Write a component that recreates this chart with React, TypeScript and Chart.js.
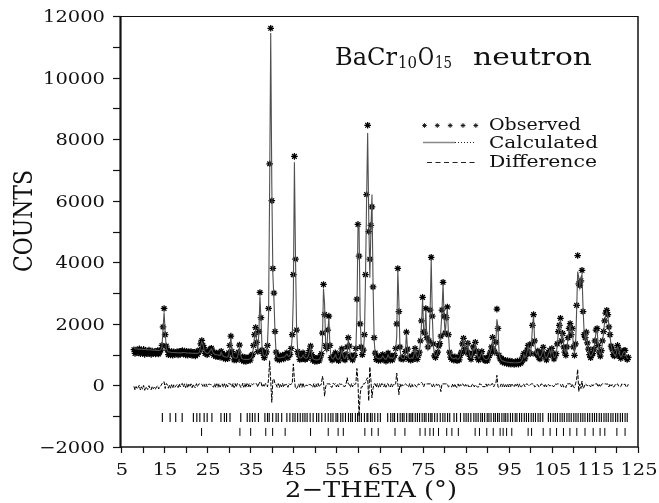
import React, { useEffect, useRef } from "react";
import { Chart, registerables } from "chart.js";

Chart.register(...registerables);

// ---- scan parameters (2-theta start and step of the neutron pattern) ----
const START_2THETA = 8.0;
const STEP_2THETA = 0.25;

// ---- observed counts, one row per 5 degrees (20 steps of 0.25) ----
const OBSERVED = [
  1160,1040,1150,1070,1120,1190,1030,1130,1050,1170,1010,1120,1060,1030,1150,1050,1010,1120,1040,1090,
  1020,1100,1130,1020,1090,1150,1300,1900,2500,1650,1280,1150,1000,1110,990,1100,980,1090,1010,1050,
  1090,990,1110,1010,1100,1130,1020,1120,990,1110,980,1090,1010,1100,970,1080,1000,960,1100,1010,
  1090,1150,1350,1460,1300,1230,1040,1100,1000,1080,1120,1180,1210,1080,980,1070,940,1050,930,1040,
  920,1110,1040,890,990,860,970,870,1060,1300,1600,1100,990,830,950,830,960,1080,1310,940,
  820,930,790,910,780,900,800,910,820,960,1000,1300,1650,1880,1400,1100,1750,3020,2200,1150,
  1030,900,1020,1090,1300,2500,7200,11600,6000,3800,3000,1750,1080,860,960,830,950,860,990,860,
  960,1000,1060,900,1000,1010,1200,1650,3600,7440,4100,1800,1100,1000,840,950,860,1060,880,840,
  900,880,1000,1130,1280,1000,820,910,780,880,790,900,800,920,1030,1700,3280,2300,1300,1200,
  1800,2250,1300,900,820,930,950,1060,850,910,800,940,1030,1190,960,860,830,1010,1250,1550,
  1280,920,960,830,960,980,1200,2800,5230,4200,2000,1250,1000,1150,1650,3600,6200,8450,5000,4100,
  5200,5800,3200,1550,1050,840,940,810,920,820,960,1000,850,910,790,950,1050,880,820,950,
  830,950,980,1200,2000,3800,2400,1250,860,910,850,900,1100,1730,1180,850,930,820,950,840,
  1020,1200,960,850,970,1080,1450,2100,2860,1750,1700,2500,1550,1250,1450,2450,4160,2250,1350,960,
  910,1030,1080,1280,1360,1600,2450,3350,2250,1700,2200,2550,1650,1080,920,850,930,820,930,850,
  800,900,830,980,1080,1350,1530,1200,1080,1120,1370,1050,940,850,1030,1250,1100,1400,1120,900,
  830,960,1030,1100,900,850,800,890,800,910,970,1080,1250,1560,1150,1080,1400,2480,1850,980,
  860,880,760,840,730,820,710,800,700,790,690,780,730,680,770,700,790,690,800,720,
  760,920,1040,860,990,1150,1300,1080,1030,1350,1950,2300,1450,1020,1030,1120,900,860,1000,1080,
  1240,1010,950,830,980,1080,1130,1000,1200,1020,860,970,1030,1350,1750,1950,2180,1450,1690,1250,
  1080,980,1250,1550,1850,2010,1650,1850,1250,980,1350,2600,4220,3300,3250,3400,3740,2400,1650,1550,
  1730,1380,1180,1000,900,1020,1030,1180,1450,1800,1850,1300,1080,950,1130,1450,1750,2100,2350,2440,
  2300,1900,1650,1280,1180,1000,960,990,1080,1300,1180,950,880,1000,1080,1130,1140,900,840,910,
];

// ---- calculated profile, same grid ----
const CALCULATED = [
  1190,1190,1185,1185,1180,1180,1178,1175,1172,1170,1168,1165,1162,1160,1158,1155,1152,1150,1148,1145,
  1142,1140,1138,1135,1140,1160,1250,1800,2380,1750,1220,1120,1090,1085,1080,1075,1072,1070,1068,1065,
  1062,1060,1058,1058,1060,1065,1070,1068,1062,1058,1055,1052,1050,1048,1045,1042,1040,1040,1042,1045,
  1050,1100,1300,1420,1330,1180,1080,1050,1040,1045,1080,1150,1190,1100,1040,1010,1000,995,990,985,
  975,1080,990,950,935,925,915,920,1000,1250,1560,1150,930,900,890,885,900,1050,1270,1000,
  880,860,850,845,845,840,845,850,870,900,980,1250,1600,1820,1350,1150,1700,2900,2100,1200,
  1000,950,960,1050,1350,2300,6400,11450,6550,3600,2800,1700,1050,920,900,895,900,910,920,915,
  930,980,1020,960,940,990,1150,1600,2900,7250,4200,1900,1150,950,900,890,920,980,930,890,
  880,900,960,1100,1250,1020,880,850,840,830,830,835,850,900,1000,1400,3150,2650,1350,1150,
  1750,2200,1250,950,880,860,920,1000,900,860,850,880,1000,1150,980,880,870,950,1000,1500,
  1250,980,900,880,900,950,1150,2250,5100,5200,2300,1300,1050,1100,1600,3500,6000,8200,5500,3500,
  5000,6200,3300,1500,1000,900,880,870,860,870,900,960,900,860,850,900,1000,920,880,900,
  880,900,950,1150,1600,3750,2700,1200,920,880,870,880,1050,1700,1200,900,870,880,900,880,
  1000,1180,1000,900,920,1050,1400,2000,2800,1800,1650,2450,1500,1200,1400,2400,4100,2300,1300,1000,
  950,980,1100,1250,1400,1800,2400,3300,2200,1650,2150,2500,1700,1100,950,900,880,860,880,900,
  860,850,880,950,1100,1300,1500,1250,1050,1150,1350,1100,950,900,1000,1200,1150,1380,1150,950,
  880,900,1000,1080,950,880,850,840,850,870,950,1100,1200,1500,1200,1050,1350,2150,1900,1050,
  900,830,800,790,780,770,760,755,750,745,740,740,738,735,735,738,740,745,750,760,
  800,880,1000,900,950,1100,1280,1100,1000,1300,1900,2250,1500,1050,1000,1100,950,900,950,1050,
  1200,1050,900,880,950,1050,1150,1000,1180,1050,900,920,1000,1300,1700,1900,2150,1500,1650,1300,
  1100,1050,1200,1500,1800,1950,1700,1800,1300,1050,1300,2400,3700,3500,3200,3500,3600,2500,1700,1500,
  1700,1400,1150,1000,950,980,1050,1150,1400,1750,1800,1350,1050,1000,1100,1400,1700,2050,2300,2400,
  2250,1950,1600,1300,1150,1050,1000,950,1050,1250,1200,1000,920,950,1050,1100,1100,950,880,870,
];

// ---- reflection markers (2-theta) ----
const REFLECTIONS_BACR10O15 = [
  14.6,16.4,17.7,19.2,21.8,22.6,23.3,24.3,25.0,26.1,28.2,29.0,29.5,30.3,32.8,34.3,34.9,35.5,36.1,36.9,
  38.4,39.0,39.4,40.2,41.0,41.5,42.3,43.5,44.2,44.9,45.4,46.0,46.6,47.2,47.7,48.2,48.9,49.6,50.4,50.9,
  51.6,52.4,53.1,53.7,54.2,54.9,55.3,56.0,56.5,57.1,57.8,58.3,58.7,59.4,59.9,60.3,60.8,61.5,62.1,62.3,
  62.9,63.3,63.9,64.6,65.2,66.9,67.6,68.1,68.5,69.2,69.8,70.3,70.7,71.3,71.9,72.3,72.7,73.3,73.8,74.3,
  74.9,75.4,75.8,76.4,76.9,77.2,77.8,78.4,79.1,79.7,80.2,80.8,81.3,82.3,82.9,83.8,84.6,85.1,85.6,86.2,
  86.9,87.4,87.9,88.5,88.9,89.4,90.0,90.4,90.9,91.5,91.9,92.4,92.8,93.4,93.9,94.3,94.8,95.4,95.9,96.5,
  96.9,97.5,98.0,98.6,99.1,99.6,100.2,100.7,101.2,101.8,102.3,102.9,104.2,104.7,105.3,105.8,106.3,106.9,
  107.4,107.9,108.5,109.0,109.5,110.1,110.6,111.1,111.7,112.2,112.7,113.3,113.8,114.4,114.9,115.4,116.0,
  116.5,117.1,117.6,118.1,118.7,119.2,119.8,120.3,120.9,121.4,122.0,122.5,
];
const REFLECTIONS_SECOND_PHASE = [
  23.7,32.6,35.1,38.6,40.2,43.1,49.0,53.1,55.4,56.6,61.6,63.2,64.7,68.6,70.9,74.4,75.6,76.7,77.5,78.7,
  80.6,81.8,83.3,87.2,88.2,89.9,91.4,93.0,93.7,94.5,95.7,99.5,100.3,103.0,104.6,106.1,107.7,109.2,110.8,
  112.7,114.6,116.2,117.3,120.1,122.0,
];
const MARKER_LEVEL_MAIN = -1040;
const MARKER_LEVEL_SECOND = -1510;

// ---- axes ----
const X_RANGE = [5, 125];
const Y_RANGE = [-2000, 12000];
const X_TICK_LABELS = [5, 15, 25, 35, 45, 55, 65, 75, 85, 95, 105, 115, 125];
const X_MINOR_TICKS = [10, 20, 30, 40, 50, 60, 70, 80, 90, 100, 110, 120];
const Y_TICK_LABELS = [-2000, 0, 2000, 4000, 6000, 8000, 10000, 12000];
const Y_MINOR_TICKS = [-1000, 1000, 3000, 5000, 7000, 9000, 11000];

const SERIF = '"DejaVu Serif", "Liberation Serif", serif';

function twoTheta(i: number) {
  return Number((START_2THETA + i * STEP_2THETA).toFixed(2));
}

function drawScaled(ctx: CanvasRenderingContext2D, text: string, x: number, y: number, sx: number, sy: number, align: CanvasTextAlign) {
  ctx.save();
  ctx.translate(x, y);
  ctx.scale(sx, sy);
  ctx.textAlign = align;
  ctx.textBaseline = "alphabetic";
  ctx.fillText(text, 0, 0);
  ctx.restore();
}

function drawFit(ctx: CanvasRenderingContext2D, text: string, x: number, y: number, width: number, sy: number, align: CanvasTextAlign) {
  ctx.textAlign = "left";
  const w = ctx.measureText(text).width;
  drawScaled(ctx, text, x, y, width / w, sy, align);
}

const decorPlugin = {
  id: "decor",
  afterDraw(chart: any) {
    const ctx: CanvasRenderingContext2D = chart.ctx;
    const { left, right, top, bottom } = chart.chartArea;
    const xs = chart.scales.x;
    const ys = chart.scales.y;
    ctx.save();
    ctx.strokeStyle = "#111";
    ctx.fillStyle = "#111";
    ctx.setLineDash([]);

    // frame
    ctx.lineWidth = 1.2;
    ctx.beginPath();
    ctx.moveTo(left, top + 0.5);
    ctx.lineTo(right, top + 0.5);
    ctx.stroke();
    ctx.lineWidth = 1.5;
    ctx.beginPath();
    ctx.moveTo(right, top);
    ctx.lineTo(right, bottom);
    ctx.stroke();
    ctx.lineWidth = 1.6;
    ctx.beginPath();
    ctx.moveTo(left - 1, bottom);
    ctx.lineTo(right, bottom);
    ctx.stroke();
    ctx.lineWidth = 2.2;
    ctx.beginPath();
    ctx.moveTo(left - 0.5, top);
    ctx.lineTo(left - 0.5, bottom + 1);
    ctx.stroke();

    // y ticks
    ctx.lineWidth = 1.2;
    for (const v of [...Y_TICK_LABELS, ...Y_MINOR_TICKS]) {
      const py = Math.round(ys.getPixelForValue(v)) + 0.5;
      ctx.beginPath();
      ctx.moveTo(left - 8, py);
      ctx.lineTo(left, py);
      ctx.stroke();
    }
    // x ticks
    for (const v of [...X_TICK_LABELS, ...X_MINOR_TICKS]) {
      const px = Math.round(xs.getPixelForValue(v)) + 0.5;
      ctx.beginPath();
      ctx.moveTo(px, bottom);
      ctx.lineTo(px, bottom + 6);
      ctx.stroke();
    }

    // tick labels
    ctx.font = `16.5px ${SERIF}`;
    const sxTick = 1.18;
    for (const v of Y_TICK_LABELS) {
      const py = ys.getPixelForValue(v);
      const label = v < 0 ? "\u2212" + Math.abs(v) : String(v);
      drawScaled(ctx, label, left - 16, py + 6, sxTick, 1, "right");
    }
    for (const v of X_TICK_LABELS) {
      const px = xs.getPixelForValue(v);
      drawScaled(ctx, String(v), px + 1, bottom + 28, sxTick, 1, "center");
    }

    // axis titles
    ctx.font = `23px ${SERIF}`;
    drawFit(ctx, "2\u2212THETA (\u00b0)", 285, 496.5, 172, 1, "left");
    ctx.font = `22px ${SERIF}`;
    ctx.save();
    ctx.translate(32, 221);
    ctx.rotate(-Math.PI / 2);
    drawFit(ctx, "COUNTS", 0, 0, 102, 1.15, "center");
    ctx.restore();

    // title inside plot
    ctx.font = `24px ${SERIF}`;
    drawFit(ctx, "BaCr", 335, 65, 62, 1, "left");
    drawFit(ctx, "O", 418, 65, 16, 1, "left");
    drawFit(ctx, "neutron", 473, 65, 119, 1, "left");
    ctx.font = `16px ${SERIF}`;
    drawFit(ctx, "10", 398, 67.5, 19, 1, "left");
    drawFit(ctx, "15", 435, 67.5, 17, 1, "left");

    // legend
    ctx.font = `16.5px ${SERIF}`;
    drawFit(ctx, "Observed", 489, 130, 92, 1, "left");
    drawFit(ctx, "Calculated", 489, 148.3, 109, 1, "left");
    drawFit(ctx, "Difference", 489, 166.7, 108, 1, "left");

    // legend symbols
    ctx.lineWidth = 0.9;
    for (const sx of [424.5, 437.3, 450.2, 463, 475.8]) {
      const r = 2.4, cy = 125.5;
      ctx.beginPath();
      ctx.moveTo(sx - r, cy); ctx.lineTo(sx + r, cy);
      ctx.moveTo(sx, cy - r); ctx.lineTo(sx, cy + r);
      ctx.moveTo(sx - r * 0.7, cy - r * 0.7); ctx.lineTo(sx + r * 0.7, cy + r * 0.7);
      ctx.moveTo(sx - r * 0.7, cy + r * 0.7); ctx.lineTo(sx + r * 0.7, cy - r * 0.7);
      ctx.stroke();
    }
    ctx.strokeStyle = "#888";
    ctx.lineWidth = 1.5;
    ctx.beginPath();
    ctx.moveTo(423, 142.5); ctx.lineTo(455, 142.5);
    ctx.stroke();
    ctx.strokeStyle = "#222";
    ctx.lineWidth = 1;
    ctx.setLineDash([1, 2]);
    ctx.beginPath();
    ctx.moveTo(455, 142.5); ctx.lineTo(475, 142.5);
    ctx.stroke();
    ctx.setLineDash([5, 3.5]);
    ctx.beginPath();
    ctx.moveTo(427, 162.5); ctx.lineTo(478, 162.5);
    ctx.stroke();
    ctx.restore();
  },
};

export default function App() {
  const canvasRef = useRef<HTMLCanvasElement | null>(null);

  useEffect(() => {
    const canvas = canvasRef.current;
    if (!canvas) return;

    const observed = OBSERVED.map((v, i) => ({ x: twoTheta(i), y: v }));
    const calculated = CALCULATED.map((v, i) => ({ x: twoTheta(i), y: v }));
    const difference = OBSERVED.map((v, i) => ({ x: twoTheta(i), y: v - CALCULATED[i] }));
    const mainMarks = REFLECTIONS_BACR10O15.map((t) => ({ x: t, y: MARKER_LEVEL_MAIN }));
    const secondMarks = REFLECTIONS_SECOND_PHASE.map((t) => ({ x: t, y: MARKER_LEVEL_SECOND }));

    const chart = new Chart(canvas, {
      type: "scatter",
      data: {
        datasets: [
          {
            type: "line",
            label: "Calculated",
            data: calculated,
            borderColor: "#505050",
            borderWidth: 1.1,
            pointRadius: 0,
            tension: 0,
            order: 1,
          } as any,
          {
            type: "scatter",
            label: "Observed",
            data: observed,
            pointStyle: "star",
            pointRadius: 3.3,
            borderColor: "#000",
            backgroundColor: "#000",
            borderWidth: 1.25,
            order: 2,
          } as any,
          {
            type: "line",
            label: "Difference",
            data: difference,
            borderColor: "#000",
            borderWidth: 1,
            borderDash: [4, 1.5],
            pointRadius: 0,
            tension: 0,
            order: 3,
          } as any,
          {
            type: "scatter",
            label: "BaCr10O15 reflections",
            data: mainMarks,
            pointStyle: "line",
            pointRotation: 90,
            pointRadius: 4.5,
            borderColor: "#000",
            borderWidth: 1.1,
            order: 4,
          } as any,
          {
            type: "scatter",
            label: "Second phase reflections",
            data: secondMarks,
            pointStyle: "line",
            pointRotation: 90,
            pointRadius: 4,
            borderColor: "#000",
            borderWidth: 1,
            order: 5,
          } as any,
        ],
      },
      options: {
        responsive: false,
        animation: false,
        devicePixelRatio: 1,
        layout: { padding: { left: 121, top: 16, right: 21, bottom: 56 } },
        scales: {
          x: { type: "linear", min: X_RANGE[0], max: X_RANGE[1], display: false },
          y: { type: "linear", min: Y_RANGE[0], max: Y_RANGE[1], display: false },
        },
        plugins: {
          legend: { display: false },
          tooltip: { enabled: false },
          title: { display: false },
        },
        events: [],
      },
      plugins: [decorPlugin],
    });

    return () => chart.destroy();
  }, []);

  return (
    <div style={{ position: "fixed", left: 0, top: 0, width: 659, height: 503, background: "#fff" }}>
      <canvas ref={canvasRef} width={659} height={503} style={{ display: "block", width: 659, height: 503 }} />
    </div>
  );
}
